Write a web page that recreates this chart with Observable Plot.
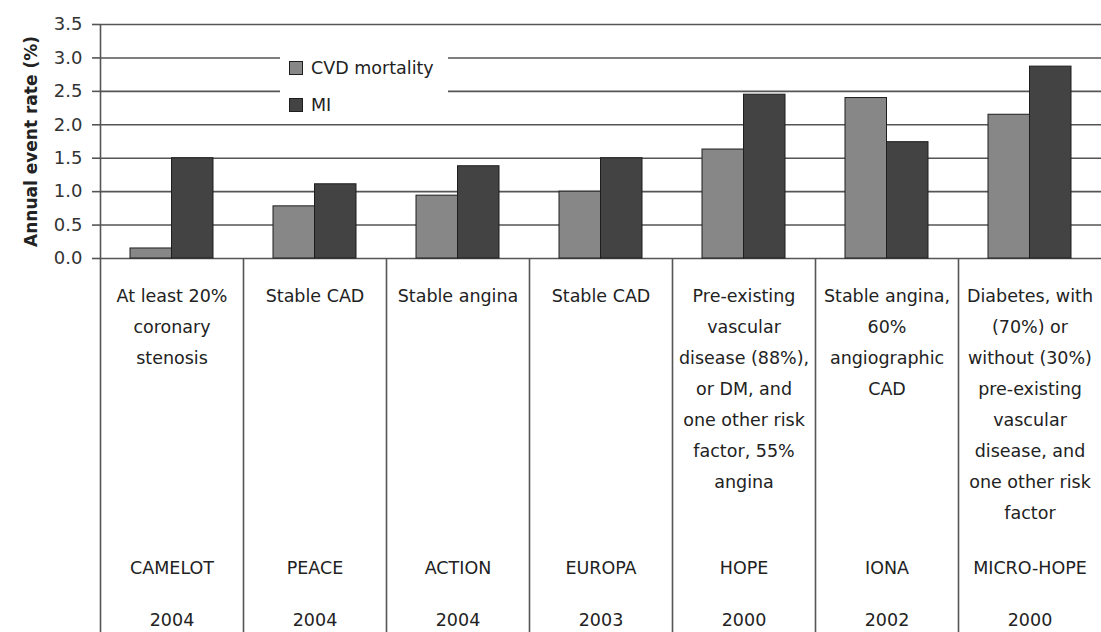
<!DOCTYPE html>
<html>
<head>
<meta charset="utf-8">
<script src="https://cdn.jsdelivr.net/npm/d3@7"></script>
<script src="https://cdn.jsdelivr.net/npm/@observablehq/plot@0.6"></script>
<style>
  html, body { margin: 0; padding: 0; background: #fff; }
  #wrap { position: relative; width: 1101px; height: 632px; }
  #legend { position: absolute; left: 280px; top: 45px; width: 168px; height: 77px; background: #fff;
            font-family: "DejaVu Sans", sans-serif; font-size: 17.5px; color: #222; }
  .item { position: absolute; left: 9px; display: flex; align-items: center; }
  .sw { width: 12px; height: 12px; border: 1px solid #1e1e1e; margin-right: 8px; }
</style>
</head>
<body>
<div id="wrap"></div>
<script>
const trials = ["CAMELOT", "PEACE", "ACTION", "EUROPA", "HOPE", "IONA", "MICRO-HOPE"];
const years = ["2004", "2004", "2004", "2003", "2000", "2002", "2000"];
const descriptions = [
  "At least 20%\ncoronary\nstenosis",
  "Stable CAD",
  "Stable angina",
  "Stable CAD",
  "Pre-existing\nvascular\ndisease (88%),\nor DM, and\none other risk\nfactor, 55%\nangina",
  "Stable angina,\n60%\nangiographic\nCAD",
  "Diabetes, with\n(70%) or\nwithout (30%)\npre-existing\nvascular\ndisease, and\none other risk\nfactor"
];
const series = ["CVD mortality", "MI"];
const cvdMortality = [0.15, 0.78, 0.94, 1.0, 1.63, 2.40, 2.15];
const mi = [1.5, 1.11, 1.38, 1.5, 2.45, 1.74, 2.87];
const yTicks = [0, 0.5, 1.0, 1.5, 2.0, 2.5, 3.0, 3.5];
const yLabel = "Annual event rate (%)";
const colors = ["#878787", "#434343"];

const cvdData = trials.map((t, i) => ({trial: t, series: series[0], value: cvdMortality[i]}));
const miData = trials.map((t, i) => ({trial: t, series: series[1], value: mi[i]}));

const W = 1101, H = 632, ML = 100, MT = 24, MB = 374;
const step = (W - ML) / trials.length;
const barW = 41.5, outer = 30;
const font = "DejaVu Sans, sans-serif";
const lineCol = "#555";
const tableSize = 17.5;

const chart = Plot.plot({
  width: W, height: H,
  marginLeft: ML, marginRight: 0, marginTop: MT, marginBottom: MB,
  style: {fontFamily: font, background: "#fff", color: "#222"},
  x: {type: "band", domain: trials, padding: 0, axis: null},
  y: {domain: [0, 3.5], axis: null},
  color: {domain: series, range: colors},
  marks: [
    Plot.ruleY(yTicks, {stroke: lineCol, strokeWidth: 1.6}),
    Plot.axisY({ticks: yTicks, tickFormat: d3.format(".1f"), tickSize: 8, tickPadding: 10,
                fontSize: 18, stroke: lineCol, strokeWidth: 1.6, fill: "#333", label: null}),
    Plot.ruleX([trials[0]], {x: d => d, dx: -step / 2, stroke: lineCol, strokeWidth: 1.6}),
    Plot.axisX({ticks: trials, tickSize: MB, dx: -step / 2, tickFormat: () => "", stroke: lineCol,
                strokeWidth: 1.6, label: null}),
    Plot.barY(cvdData, {x: "trial", y: "value", fill: "series", stroke: "#1e1e1e", strokeWidth: 1,
                        insetLeft: outer, insetRight: step - outer - barW}),
    Plot.barY(miData, {x: "trial", y: "value", fill: "series", stroke: "#1e1e1e", strokeWidth: 1,
                       insetLeft: outer + barW, insetRight: step - outer - 2 * barW}),
    Plot.text(trials, {x: d => d, text: (d, i) => descriptions[i], frameAnchor: "bottom",
                       lineAnchor: "top", dy: 21, lineHeight: 31 / tableSize, fontSize: tableSize, fill: "#222"}),
    Plot.text(trials, {x: d => d, text: d => d, frameAnchor: "bottom", lineAnchor: "middle",
                       dy: 310, fontSize: tableSize, fill: "#222"}),
    Plot.text(trials, {x: d => d, text: (d, i) => years[i], frameAnchor: "bottom", lineAnchor: "middle",
                       dy: 362, fontSize: tableSize, fill: "#222"}),
    Plot.text([yLabel], {text: d => d, frameAnchor: "left", textAnchor: "middle", rotate: -90, dx: -69,
                         fontWeight: "bold", fontSize: 17, fill: "#222"})
  ]
});

const wrap = document.getElementById("wrap");
wrap.appendChild(chart);

const legend = document.createElement("div");
legend.id = "legend";
series.forEach((s, i) => {
  const item = document.createElement("div");
  item.className = "item";
  item.style.top = (i === 0 ? 13 : 50) + "px";
  const sw = document.createElement("div");
  sw.className = "sw";
  sw.style.background = colors[i];
  const lab = document.createElement("span");
  lab.textContent = s;
  item.appendChild(sw);
  item.appendChild(lab);
  legend.appendChild(item);
});
wrap.appendChild(legend);
</script>
</body>
</html>
